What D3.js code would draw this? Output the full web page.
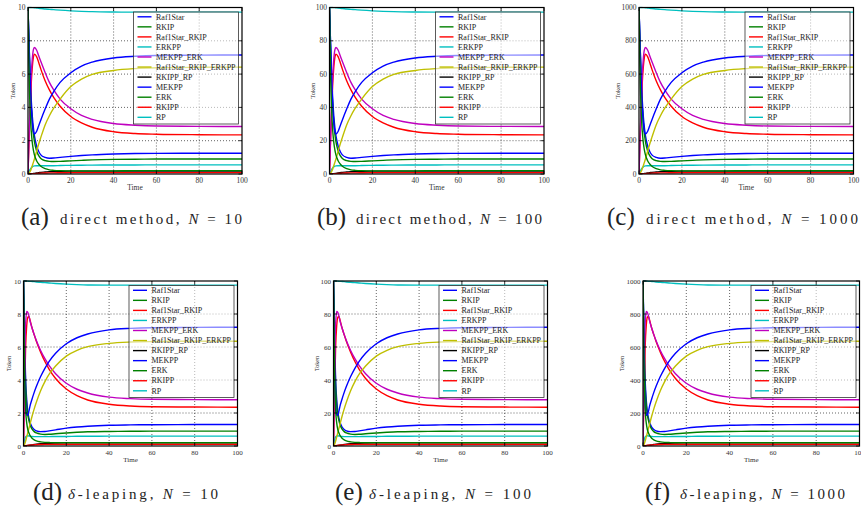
<!DOCTYPE html>
<html>
<head>
<meta charset="utf-8">
<script src="https://cdn.jsdelivr.net/npm/d3@7"></script>
<style>
  body { margin: 0; background: #fff; }
  svg { display: block; }
  text { font-family: "Liberation Serif", "DejaVu Serif", serif; }
</style>
</head>
<body>
<svg id="chart" width="861" height="507"></svg>
<script>
// Time points (shared by all runs)
const times = [0, 0.5, 1, 1.5, 2, 2.5, 3, 4, 5, 6, 8, 10, 12, 15, 20, 25, 30, 40, 50, 60, 80, 100];

// Species, in legend order
const species = ['Raf1Star', 'RKIP', 'Raf1Star_RKIP', 'ERKPP', 'MEKPP_ERK', 'Raf1Star_RKIP_ERKPP',
                 'RKIPP_RP', 'MEKPP', 'ERK', 'RKIPP', 'RP'];
const speciesColors = ['#0000ff', '#008000', '#ff0000', '#00bfbf', '#bf00bf', '#bfbf00',
                       '#000000', '#0000ff', '#008000', '#ff0000', '#00bfbf'];

// Direct method, tokens for N = 10
const direct_Raf1Star = [10, 7.8, 5.9, 4.5, 3.5, 2.8, 2.3, 1.7, 1.35, 1.15, 1.0, 0.95, 0.96, 1.0, 1.06, 1.11, 1.15, 1.2, 1.23, 1.24, 1.25, 1.25];
const direct_RKIP = [10, 7.5, 5.5, 4.1, 3.1, 2.4, 1.95, 1.4, 1.1, 0.93, 0.8, 0.76, 0.75, 0.76, 0.79, 0.82, 0.85, 0.88, 0.89, 0.9, 0.9, 0.9];
const direct_Raf1Star_RKIP = [0, 2.0, 3.9, 5.4, 6.4, 7.0, 7.2, 7.05, 6.7, 6.3, 5.6, 5.05, 4.6, 4.07, 3.45, 3.07, 2.81, 2.54, 2.43, 2.39, 2.36, 2.35];
const direct_ERKPP = [0, 0.15, 0.28, 0.37, 0.43, 0.47, 0.49, 0.5, 0.5, 0.5, 0.5, 0.5, 0.5, 0.51, 0.52, 0.53, 0.535, 0.54, 0.545, 0.55, 0.55, 0.55];
const direct_MEKPP_ERK = [0, 2.2, 4.3, 5.9, 6.9, 7.45, 7.6, 7.45, 7.1, 6.75, 6.1, 5.5, 5.05, 4.5, 3.92, 3.52, 3.28, 3.03, 2.93, 2.88, 2.86, 2.85];
const direct_Raf1Star_RKIP_ERKPP = [0, 0.05, 0.15, 0.3, 0.5, 0.7, 0.9, 1.35, 1.8, 2.2, 2.95, 3.5, 3.95, 4.5, 5.25, 5.7, 5.98, 6.22, 6.33, 6.38, 6.41, 6.42];
const direct_RKIPP_RP = [0, 0, 0.005, 0.01, 0.02, 0.03, 0.04, 0.06, 0.08, 0.1, 0.12, 0.14, 0.15, 0.16, 0.17, 0.17, 0.17, 0.17, 0.17, 0.17, 0.17, 0.17];
const direct_MEKPP = [10, 7.8, 5.7, 4.1, 3.1, 2.55, 2.4, 2.55, 2.9, 3.25, 3.9, 4.5, 4.95, 5.5, 6.08, 6.48, 6.72, 6.97, 7.07, 7.12, 7.14, 7.15];
const direct_ERK = [10, 6.0, 3.8, 2.6, 1.9, 1.45, 1.15, 0.8, 0.6, 0.47, 0.32, 0.25, 0.22, 0.2, 0.19, 0.19, 0.19, 0.19, 0.2, 0.2, 0.2, 0.2];
const direct_RKIPP = [0, 0, 0.002, 0.005, 0.01, 0.015, 0.02, 0.03, 0.04, 0.05, 0.06, 0.07, 0.07, 0.075, 0.08, 0.08, 0.08, 0.08, 0.08, 0.08, 0.08, 0.08];
const direct_RP = [10, 10, 10, 10, 9.99, 9.99, 9.98, 9.97, 9.95, 9.94, 9.91, 9.89, 9.87, 9.84, 9.8, 9.77, 9.75, 9.73, 9.72, 9.72, 9.72, 9.72];

// delta-leaping, tokens for N = 10
const leap_Raf1Star = [10, 6.5, 4.0, 2.8, 2.1, 1.7, 1.45, 1.15, 1.0, 0.92, 0.87, 0.88, 0.92, 0.98, 1.08, 1.15, 1.2, 1.26, 1.28, 1.29, 1.3, 1.3];
const leap_RKIP = [10, 6.0, 3.6, 2.5, 1.9, 1.55, 1.3, 1.02, 0.87, 0.79, 0.72, 0.7, 0.71, 0.74, 0.79, 0.83, 0.86, 0.88, 0.89, 0.9, 0.9, 0.9];
const leap_Raf1Star_RKIP = [0, 3.2, 6.0, 7.3, 7.8, 7.85, 7.65, 7.15, 6.74, 6.35, 5.69, 5.12, 4.65, 4.09, 3.45, 3.05, 2.79, 2.53, 2.42, 2.38, 2.36, 2.35];
const leap_ERKPP = [0, 0.35, 0.55, 0.6, 0.62, 0.61, 0.6, 0.58, 0.57, 0.57, 0.57, 0.57, 0.57, 0.58, 0.58, 0.59, 0.59, 0.6, 0.6, 0.6, 0.6, 0.6];
const leap_MEKPP_ERK = [0, 4.5, 7.4, 8.15, 8.1, 7.9, 7.6, 7.15, 6.75, 6.4, 5.79, 5.29, 4.87, 4.38, 3.8, 3.44, 3.21, 2.96, 2.87, 2.83, 2.81, 2.8];
const leap_Raf1Star_RKIP_ERKPP = [0, 0.1, 0.3, 0.55, 0.8, 1.05, 1.3, 1.8, 2.25, 2.65, 3.35, 3.9, 4.35, 4.85, 5.45, 5.8, 6.02, 6.22, 6.3, 6.33, 6.35, 6.35];
const leap_RKIPP_RP = [0, 0, 0.01, 0.02, 0.03, 0.04, 0.05, 0.07, 0.09, 0.11, 0.14, 0.16, 0.17, 0.18, 0.19, 0.19, 0.19, 0.19, 0.19, 0.19, 0.19, 0.19];
const leap_MEKPP = [10, 5.5, 2.6, 1.85, 1.9, 2.1, 2.4, 2.85, 3.25, 3.6, 4.21, 4.71, 5.13, 5.62, 6.2, 6.56, 6.79, 7.04, 7.13, 7.17, 7.19, 7.2];
const leap_ERK = [10, 4.5, 2.2, 1.4, 1.0, 0.8, 0.65, 0.47, 0.37, 0.31, 0.25, 0.22, 0.21, 0.2, 0.2, 0.2, 0.2, 0.2, 0.2, 0.2, 0.2, 0.2];
const leap_RKIPP = [0, 0.01, 0.02, 0.03, 0.04, 0.05, 0.05, 0.06, 0.07, 0.08, 0.09, 0.1, 0.1, 0.1, 0.1, 0.1, 0.1, 0.1, 0.1, 0.1, 0.1, 0.1];
const leap_RP = [10, 10, 10, 9.99, 9.99, 9.98, 9.98, 9.97, 9.96, 9.94, 9.92, 9.9, 9.88, 9.85, 9.81, 9.78, 9.76, 9.75, 9.75, 9.75, 9.75, 9.75];

const directRuns = [direct_Raf1Star, direct_RKIP, direct_Raf1Star_RKIP, direct_ERKPP, direct_MEKPP_ERK,
  direct_Raf1Star_RKIP_ERKPP, direct_RKIPP_RP, direct_MEKPP, direct_ERK, direct_RKIPP, direct_RP];
const leapRuns = [leap_Raf1Star, leap_RKIP, leap_Raf1Star_RKIP, leap_ERKPP, leap_MEKPP_ERK,
  leap_Raf1Star_RKIP_ERKPP, leap_RKIPP_RP, leap_MEKPP, leap_ERK, leap_RKIPP, leap_RP];

// Panels
const panelLetters = ['(a)', '(b)', '(c)', '(d)', '(e)', '(f)'];
const panelMethods = ['direct', 'direct', 'direct', 'leap', 'leap', 'leap'];
const panelN = [10, 100, 1000, 10, 100, 1000];
const xTicks = [0, 20, 40, 60, 80, 100];

// Layout of each panel (axes box + caption)
const layout = [
  { left: 28, right: 242, top: 7.5, bottom: 174, capX: 21, txtX: 60, txtW: 182, capY: 224, fs: 7.5 },
  { left: 329.5, right: 544, top: 7.5, bottom: 174, capX: 317, txtX: 356, txtW: 186, capY: 224, fs: 7.5 },
  { left: 639, right: 853.5, top: 7.5, bottom: 174, capX: 607, txtX: 646, txtW: 212, capY: 224, fs: 7.5 },
  { left: 23.5, right: 237.5, top: 281, bottom: 446, capX: 33, txtX: 68, txtW: 150, capY: 499, fs: 7 },
  { left: 333.5, right: 547.5, top: 281, bottom: 446, capX: 335, txtX: 369, txtW: 162, capY: 499, fs: 7 },
  { left: 643, right: 859.5, top: 281, bottom: 446, capX: 645, txtX: 680, txtW: 165, capY: 499, fs: 7 }
];

const svg = d3.select('#chart');

function drawPanel(i) {
  const L = layout[i];
  const N = panelN[i];
  const runs = panelMethods[i] === 'direct' ? directRuns : leapRuns;
  const g = svg.append('g');

  const x = d3.scaleLinear().domain([0, 100]).range([L.left, L.right]);
  const y = d3.scaleLinear().domain([0, N]).range([L.bottom, L.top]);
  const yTicks = d3.range(0, 6).map(k => k * N / 5);

  // Dotted grid
  g.selectAll('.gx').data(xTicks.slice(1, -1)).enter().append('line')
    .attr('x1', d => x(d)).attr('x2', d => x(d))
    .attr('y1', L.top).attr('y2', L.bottom)
    .attr('stroke', '#222').attr('stroke-width', 0.7).attr('stroke-dasharray', '1,2');
  g.selectAll('.gy').data(yTicks.slice(1, -1)).enter().append('line')
    .attr('x1', L.left).attr('x2', L.right)
    .attr('y1', d => y(d)).attr('y2', d => y(d))
    .attr('stroke', '#222').attr('stroke-width', 0.7).attr('stroke-dasharray', '1,2');

  // Clip for the curves
  const clipId = 'clip' + i;
  svg.append('clipPath').attr('id', clipId).append('rect')
    .attr('x', L.left).attr('y', L.top - 1)
    .attr('width', L.right - L.left).attr('height', L.bottom - L.top + 1);

  const line = d3.line()
    .x((d, k) => x(times[k]))
    .y(d => y(d * N / 10))
    .curve(d3.curveMonotoneX);

  const curves = g.append('g').attr('clip-path', `url(#${clipId})`);
  runs.forEach((vals, s) => {
    curves.append('path')
      .attr('d', line(vals))
      .attr('fill', 'none')
      .attr('stroke', speciesColors[s])
      .attr('stroke-width', 1.4)
      .attr('stroke-linejoin', 'round');
  });

  // Legend (semi transparent box, upper right)
  const legW = 105, legH = 112;
  const lx = L.right - 3.5 - legW, ly = L.top + 4.5;
  const leg = g.append('g');
  leg.append('rect')
    .attr('x', lx).attr('y', ly).attr('width', legW).attr('height', legH)
    .attr('fill', '#fff').attr('fill-opacity', 0.55)
    .attr('stroke', '#333').attr('stroke-width', 0.8);
  species.forEach((name, s) => {
    const yy = ly + 4.8 + s * 10.05;
    leg.append('line')
      .attr('x1', lx + 4).attr('x2', lx + 18)
      .attr('y1', yy).attr('y2', yy)
      .attr('stroke', speciesColors[s]).attr('stroke-width', 1.4);
    leg.append('text')
      .attr('x', lx + 22.5).attr('y', yy + 2.7)
      .attr('font-size', '8px').attr('fill', '#222')
      .text(name);
  });

  // Frame
  g.append('rect')
    .attr('x', L.left).attr('y', L.top)
    .attr('width', L.right - L.left).attr('height', L.bottom - L.top)
    .attr('fill', 'none').attr('stroke', '#000').attr('stroke-width', 1.2);

  // Inward ticks on all four sides
  xTicks.forEach(t => {
    g.append('line').attr('x1', x(t)).attr('x2', x(t)).attr('y1', L.bottom).attr('y2', L.bottom - 3.5).attr('stroke', '#000').attr('stroke-width', 0.8);
    g.append('line').attr('x1', x(t)).attr('x2', x(t)).attr('y1', L.top).attr('y2', L.top + 3.5).attr('stroke', '#000').attr('stroke-width', 0.8);
  });
  yTicks.forEach(t => {
    g.append('line').attr('x1', L.left).attr('x2', L.left + 3.5).attr('y1', y(t)).attr('y2', y(t)).attr('stroke', '#000').attr('stroke-width', 0.8);
    g.append('line').attr('x1', L.right).attr('x2', L.right - 3.5).attr('y1', y(t)).attr('y2', y(t)).attr('stroke', '#000').attr('stroke-width', 0.8);
  });

  // Tick labels
  g.selectAll('.xl').data(xTicks).enter().append('text')
    .attr('x', d => x(d)).attr('y', L.bottom + 8.5)
    .attr('text-anchor', 'middle').attr('font-size', L.fs + 'px').attr('fill', '#333')
    .text(d => d);
  g.selectAll('.yl').data(yTicks).enter().append('text')
    .attr('x', L.left - 2.5).attr('y', d => y(d) + 2.5)
    .attr('text-anchor', 'end').attr('font-size', L.fs + 'px').attr('fill', '#333')
    .text(d => d);

  // Axis titles
  g.append('text')
    .attr('x', (L.left + L.right) / 2).attr('y', L.bottom + 15.5)
    .attr('text-anchor', 'middle').attr('font-size', L.fs + 'px').attr('fill', '#333')
    .text('Time');
  const ty = (L.top + L.bottom) / 2;
  const tx = L.left - (N >= 1000 ? 19 : N >= 100 ? 15 : 13);
  g.append('text')
    .attr('transform', `translate(${tx},${ty}) rotate(-90)`)
    .attr('text-anchor', 'middle').attr('font-size', (L.fs - 1) + 'px').attr('fill', '#333')
    .text('Token');

  // Caption
  g.append('text')
    .attr('x', L.capX).attr('y', L.capY + 1)
    .attr('font-size', '25px').attr('fill', '#222')
    .text(panelLetters[i]);
  const cap = g.append('text')
    .attr('x', L.txtX).attr('y', L.capY)
    .attr('font-size', '15px').attr('fill', '#222')
    .attr('textLength', L.txtW).attr('lengthAdjust', 'spacing');
  if (panelMethods[i] === 'direct') {
    cap.append('tspan').text('direct method, ');
  } else {
    cap.append('tspan').attr('font-style', 'italic').text('δ');
    cap.append('tspan').text('-leaping, ');
  }
  cap.append('tspan').attr('font-style', 'italic').text('N');
  cap.append('tspan').text(' = ' + N);
}

for (let i = 0; i < 6; i++) drawPanel(i);
</script>
</body>
</html>
